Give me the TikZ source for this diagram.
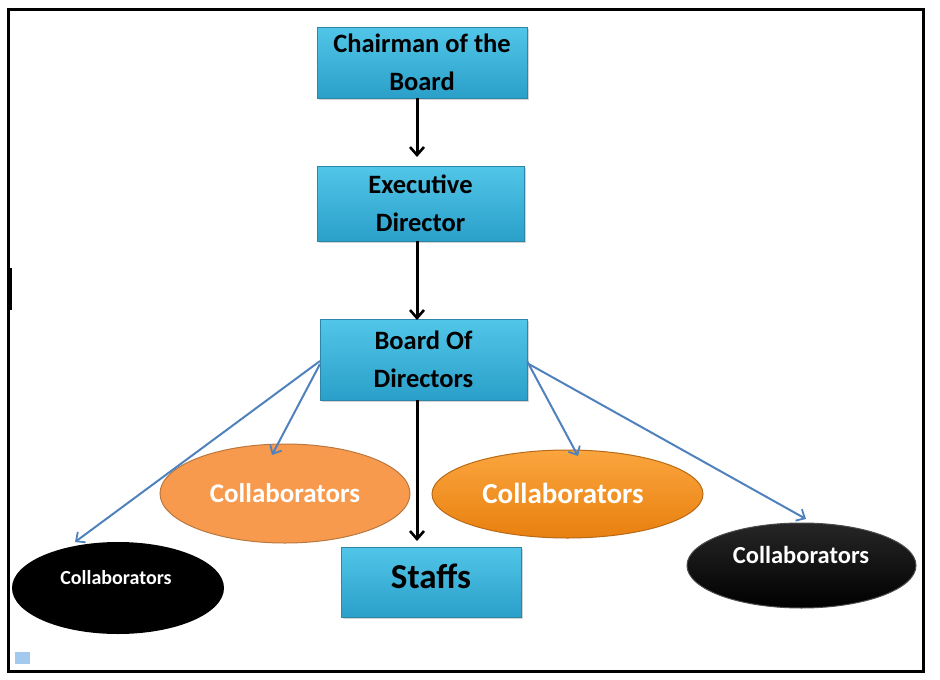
\documentclass[tikz,border=0pt]{standalone}
\usepackage{fontspec}
\setmainfont{Carlito}
\usetikzlibrary{shapes.geometric,arrows.meta,shadows}
\definecolor{boxtop}{HTML}{52C6E8}
\definecolor{boxbot}{HTML}{2A9FC9}
\definecolor{boxline}{HTML}{2C86A8}
\definecolor{orA}{HTML}{F79A4E}
\definecolor{orAline}{HTML}{B9783F}
\definecolor{orBtop}{HTML}{FBA53E}
\definecolor{orBbot}{HTML}{E8800F}
\definecolor{orBline}{HTML}{B86A17}
\definecolor{arrblue}{HTML}{4F81BD}
\definecolor{sqblue}{HTML}{A3CAEE}
\tikzset{
  rolebox/.style={draw=boxline, line width=0.8pt, top color=boxtop, bottom color=boxbot,
    font=\bfseries\fontsize{26.5}{38}\selectfont, align=center, inner sep=0pt,
    drop shadow={shadow xshift=2pt, shadow yshift=-2pt, opacity=0.35}},
  collab/.style={ellipse, inner sep=0pt, text=white, font=\bfseries},
  blackarr/.style={line width=3pt, -{Straight Barb[length=8pt,width=14pt,line width=2.6pt]}},
  bluearr/.style={line width=2pt, draw=arrblue, -{Straight Barb[length=7pt,width=13pt,line width=1.8pt]}},
}
\begin{document}
\begin{tikzpicture}[x=1pt,y=-1pt]
\useasboundingbox (0,0) rectangle (940,680);
% frame
\draw[line width=3pt] (8,9) rectangle (923,671);
\draw[line width=2pt] (11,268) -- (11,310);
% boxes
\node[rolebox, minimum width=210pt, minimum height=71pt] (chair) at (422,62.5) {\raisebox{-2pt}{Chairman of the}\\\raisebox{-2pt}{Board}};
\node[rolebox, minimum width=207pt, minimum height=75pt] (exec) at (420.5,203.5) {Executive\\Director};
\node[rolebox, minimum width=207pt, minimum height=81pt] (board) at (423.5,359.5) {Board Of\\Directors};
\node[rolebox, minimum width=180pt, minimum height=70pt, font=\bfseries\fontsize{35}{36}\selectfont] (staff) at (431,582) {\raisebox{12pt}{Staffs}};
% ellipses
\node[collab, draw=orAline, line width=1pt, fill=orA, minimum width=250pt, minimum height=99pt, font=\bfseries\fontsize{27}{30}\selectfont] (colA) at (285,493.5) {Collaborators};
\node[collab, draw=orBline, line width=1pt, top color=orBtop, bottom color=orBbot, minimum width=271pt, minimum height=88pt] (colB) at (567.5,494) {};
\node[text=white, font=\bfseries\fontsize{29}{32}\selectfont] (colBt) at (563,493) {Collaborators};
\node[collab, fill=black, minimum width=212pt, minimum height=92pt] (colC) at (118,588) {};
\node[text=white, font=\bfseries\fontsize{20}{22}\selectfont] (colCt) at (116,578) {Collaborators};
\node[collab, draw=black!70, line width=1pt, top color=black!85, bottom color=black, minimum width=229pt, minimum height=85pt] (colD) at (801.5,565.5) {};
\node[text=white, font=\bfseries\fontsize{24.5}{26}\selectfont] (colDt) at (801,555) {Collaborators};
% small square
\fill[sqblue] (15,652) rectangle (30,664);
% arrows
\coordinate (t1) at (417,157);
\coordinate (t2) at (417,320);
\coordinate (t3) at (417,541);
\draw[blackarr] (chair.south -| t1) -- (t1);
\draw[blackarr] (exec.south -| t2) -- (t2);
\draw[blackarr] (board.south -| t3) -- (t3);
\coordinate (b1) at (320,361);
\coordinate (b2) at (320,364);
\coordinate (b3) at (527,361);
\coordinate (b4) at (527,363);
\coordinate (eC) at (75,542);
\coordinate (eA) at (272,455);
\coordinate (eB) at (578,456);
\coordinate (eD) at (806,519);
\draw[bluearr] (b1) -- (eC);
\draw[bluearr] (b2) -- (eA);
\draw[bluearr] (b3) -- (eB);
\draw[bluearr] (b4) -- (eD);
\end{tikzpicture}
\end{document}
